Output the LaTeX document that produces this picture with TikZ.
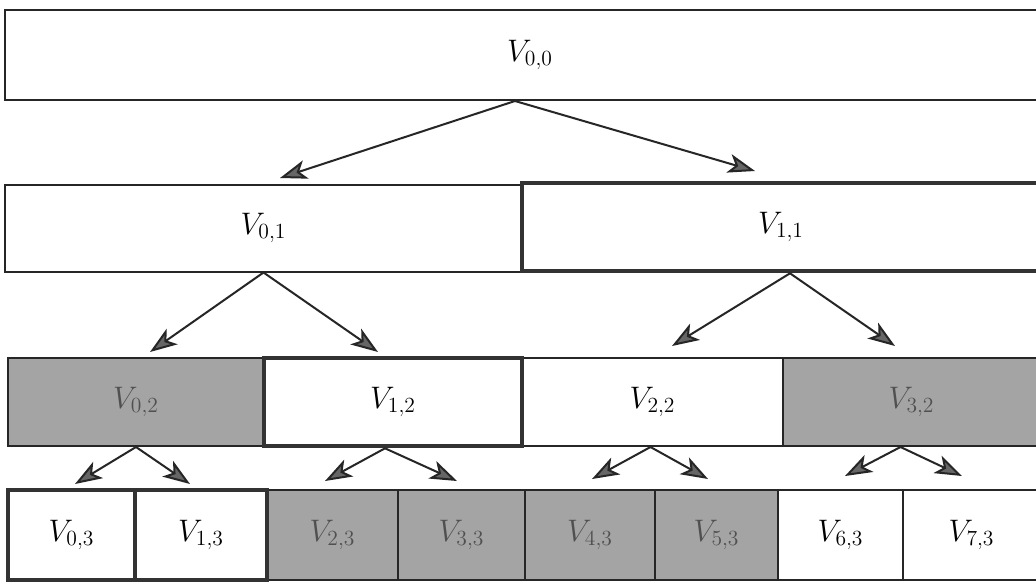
\documentclass[tikz,border=0pt]{standalone}
\usetikzlibrary{arrows.meta,calc}
\definecolor{shade}{HTML}{A4A4A4}
\definecolor{shadetext}{HTML}{505050}
\newcommand\vlbl[1]{\scalebox{1.5}{$#1$}}
\begin{document}
\begin{tikzpicture}[x=1pt,y=-1pt,
  cell/.style={draw=black!85,line width=2pt,fill=white,inner sep=0pt,
    font=\huge},
  thickcell/.style={cell,draw=black!80,line width=4.6pt},
  graycell/.style={cell,fill=shade,text=shadetext},
  arr/.style={draw=black!85,line width=2pt,
    -{Stealth[length=27pt,width=19pt,inset=7pt,fill=black!60]}}]
\clip (0,0) rectangle (1036,587);
\fill[white] (0,0) rectangle (1036,587);
% row 0
\node[cell,minimum width=1050pt,minimum height=90pt] (v00) at (530,55) {\vlbl{V_{0,0}}};
% row 1
\node[cell,minimum width=517pt,minimum height=87pt] (v01) at (263.5,228) {\vlbl{V_{0,1}}};
% row 2
\node[graycell,minimum width=256pt,minimum height=88pt] (v02) at (136,402) {\vlbl{V_{0,2}}};
\node[cell,minimum width=261pt,minimum height=88pt] (v22) at (652.5,402) {\vlbl{V_{2,2}}};
\node[graycell,minimum width=257pt,minimum height=88pt] (v32) at (911.5,402) {\vlbl{V_{3,2}}};
% row 3
\node[graycell,minimum width=131pt,minimum height=90pt] (v23) at (332.5,535) {\vlbl{V_{2,3}}};
\node[graycell,minimum width=127pt,minimum height=90pt] (v33) at (461.5,535) {\vlbl{V_{3,3}}};
\node[graycell,minimum width=130pt,minimum height=90pt] (v43) at (590,535) {\vlbl{V_{4,3}}};
\node[graycell,minimum width=123pt,minimum height=90pt] (v53) at (716.5,535) {\vlbl{V_{5,3}}};
\node[cell,minimum width=125pt,minimum height=90pt] (v63) at (840.5,535) {\vlbl{V_{6,3}}};
\node[cell,minimum width=137pt,minimum height=90pt] (v73) at (971.5,535) {\vlbl{V_{7,3}}};
% thick boxes on top
\node[thickcell,minimum width=518pt,minimum height=88pt] (v11) at (781,227) {\vlbl{V_{1,1}}};
\node[thickcell,minimum width=258pt,minimum height=88pt] (v12) at (393,402) {\vlbl{V_{1,2}}};
\node[thickcell,minimum width=127pt,minimum height=90pt] (v03) at (71.5,535) {\vlbl{V_{0,3}}};
\node[thickcell,minimum width=132pt,minimum height=90pt] (v13) at (201,535) {\vlbl{V_{1,3}}};
% arrow end points
\coordinate (e01) at (280,178);
\coordinate (e11) at (755,171);
\coordinate (e02) at (150,352);
\coordinate (e12) at (378,352);
\coordinate (e22) at (672,346);
\coordinate (e32) at (895,346);
\coordinate (e03) at (75,484);
\coordinate (e13) at (190,484);
\coordinate (e23) at (325,481);
\coordinate (e33) at (457,481);
\coordinate (e43) at (592,479);
\coordinate (e53) at (708,479);
\coordinate (e63) at (845,476);
\coordinate (e73) at (962,476);
% arrows
\draw[arr] ([xshift=-15pt]v00.south) -- (e01);
\draw[arr] ([xshift=-15pt]v00.south) -- (e11);
\draw[arr] (v01.south) -- (e02);
\draw[arr] (v01.south) -- (e12);
\draw[arr] ([xshift=9pt]v11.south) -- (e22);
\draw[arr] ([xshift=9pt]v11.south) -- (e32);
\draw[arr] (v02.south) -- (e03);
\draw[arr] (v02.south) -- (e13);
\draw[arr] ([xshift=-8pt]v12.south) -- (e23);
\draw[arr] ([xshift=-8pt]v12.south) -- (e33);
\draw[arr] ([xshift=-2pt]v22.south) -- (e43);
\draw[arr] ([xshift=-2pt]v22.south) -- (e53);
\draw[arr] ([xshift=-11pt]v32.south) -- (e63);
\draw[arr] ([xshift=-11pt]v32.south) -- (e73);
\end{tikzpicture}
\end{document}
